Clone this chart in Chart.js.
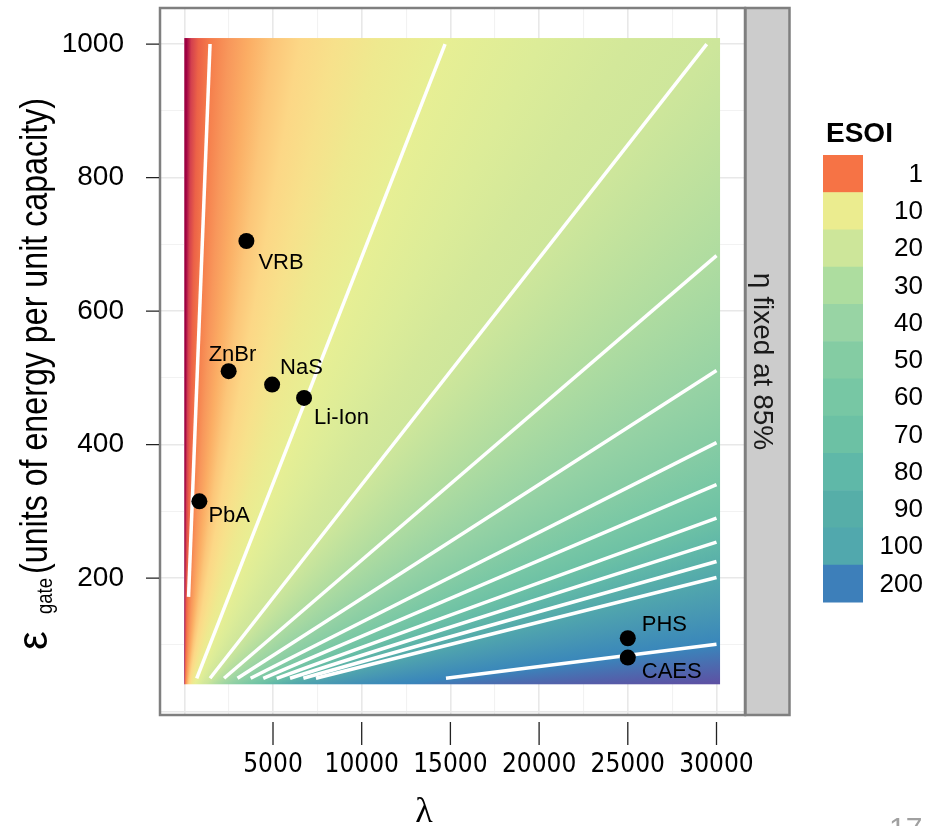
<!DOCTYPE html>
<html>
<head>
<meta charset="utf-8">
<script src="https://cdn.jsdelivr.net/npm/chart.js@4.4.1/dist/chart.umd.min.js"></script>
<style>
  html, body { margin: 0; padding: 0; background: #fff; }
  canvas { display: block; }
</style>
</head>
<body>
<canvas id="esoiChart" width="935" height="826"></canvas>
<script>
// ESOI contour levels, each drawn as a white line between two ends
const contourLevels = [1, 10, 20, 30, 40, 50, 60, 70, 80, 90, 100, 200];
const contourLoLambda = [240, 699, 1450, 2240, 3000, 3740, 4450, 5210, 5960, 6710, 7420, 14750];
const contourLoEps = [172, 50, 50, 50, 50, 50, 50, 50, 50, 50, 50, 50];
const contourHiLambda = [1450, 14700, 29450, 30000, 30000, 30000, 30000, 30000, 30000, 30000, 30000, 30000];
const contourHiEps = [1000, 1000, 1000, 683, 511, 403, 340, 290, 254, 225, 201, 101];

// storage technologies
const techNames = ['VRB', 'ZnBr', 'NaS', 'Li-Ion', 'PbA', 'PHS', 'CAES'];
const techLambda = [3500, 2500, 4950, 6750, 850, 25000, 25000];
const techEps = [705, 510, 490, 470, 315, 110, 81];

// heatmap colour read along the top and the right edge of the raster
const heatLambda = [120, 400, 800, 1450, 2500, 3600, 5000, 6500, 8500, 11000, 14700, 20000, 25000,
                    30000, 30000, 30000, 30000, 30000, 30000, 30000, 30000, 30000, 30000, 30000, 30000];
const heatEps = [1000, 1000, 1000, 1000, 1000, 1000, 1000, 1000, 1000, 1000, 1000, 1000, 1000,
                 1000, 683, 511, 403, 340, 290, 254, 225, 201, 150, 101, 41];
const heatColors = ['#9e0142', '#d3404e', '#ec6247', '#f57c4b', '#f8975b', '#fbad64', '#fcc679',
                    '#fcd786', '#f7e18b', '#eee98f', '#e7ef94', '#dcec98', '#d3e89a',
                    '#cde69b', '#afdca0', '#98d3a4', '#86cca4', '#78c7a5', '#6dc1a5', '#62b9a8',
                    '#59b0a9', '#52a8ac', '#4797b3', '#3986bb', '#5e50a3'];
const heatLambdaRange = [0, 30200];
const heatEpsRange = [41, 1009];

// legend
const legendLabels = ['1', '10', '20', '30', '40', '50', '60', '70', '80', '90', '100', '200'];
const legendColors = ['#f67345', '#ebec8f', '#cde69a', '#addd9f', '#98d4a4', '#84cca3',
                      '#77c7a4', '#6cc1a4', '#5fb8a8', '#56aea8', '#51a8ad', '#3d7fba'];

// axes
const xBreaks = [0, 2500, 5000, 7500, 10000, 12500, 15000, 17500, 20000, 22500, 25000, 27500, 30000];
const xTickLabels = [5000, 10000, 15000, 20000, 25000, 30000];
const yBreaks = [0, 100, 200, 300, 400, 500, 600, 700, 800, 900, 1000];
const yTickLabels = [200, 400, 600, 800, 1000];

const labelOffsets = {
  'VRB': [12, 22], 'ZnBr': [-20, -16], 'NaS': [8, -17], 'Li-Ion': [10, 20],
  'PbA': [9, 15], 'PHS': [14, -13], 'CAES': [14, 14]
};

const SANS = '"Liberation Sans", Arial, Helvetica, sans-serif';
const NARROW = '"Liberation Sans Narrow", "DejaVu Sans Condensed", sans-serif';

// fan of colour from the origin, stops placed at the angle of each sample
const heatmapPlugin = {
  id: 'heatmap',
  beforeDatasetsDraw(chart) {
    const { ctx, scales: { x, y } } = chart;
    const cx = x.getPixelForValue(0);
    const cy = y.getPixelForValue(0);
    const grad = ctx.createConicGradient(-Math.PI / 2, cx, cy);
    const stops = heatLambda.map((l, i) => {
      const a = Math.atan2(y.getPixelForValue(heatEps[i]) - cy, x.getPixelForValue(l) - cx);
      return [(a + Math.PI / 2) / (2 * Math.PI), heatColors[i]];
    }).sort((p, q) => p[0] - q[0]);
    stops.forEach(([o, c]) => grad.addColorStop(Math.min(1, Math.max(0, o)), c));
    const left = x.getPixelForValue(heatLambdaRange[0]);
    const right = x.getPixelForValue(heatLambdaRange[1]);
    const top = y.getPixelForValue(heatEpsRange[1]);
    const bottom = y.getPixelForValue(heatEpsRange[0]);
    ctx.save();
    ctx.fillStyle = grad;
    ctx.fillRect(left, top, right - left, bottom - top);
    ctx.restore();
  }
};

const decorPlugin = {
  id: 'decor',
  afterDraw(chart) {
    const { ctx, chartArea: area, scales: { x, y } } = chart;
    ctx.save();

    // point labels
    const meta = chart.getDatasetMeta(0);
    ctx.fillStyle = '#000';
    ctx.font = '22px ' + SANS;
    ctx.textAlign = 'left';
    ctx.textBaseline = 'middle';
    techNames.forEach((name, i) => {
      const pt = meta.data[i];
      const off = labelOffsets[name];
      ctx.fillText(name, pt.x + off[0], pt.y + off[1]);
    });

    // panel border
    ctx.strokeStyle = '#7f7f7f';
    ctx.lineWidth = 2.5;
    ctx.strokeRect(area.left, area.top, area.right + 1 - area.left, area.bottom - area.top);

    // facet strip
    const sx = area.right + 1.5, sw = 44;
    ctx.fillStyle = '#cccccc';
    ctx.fillRect(sx, area.top, sw, area.bottom - area.top);
    ctx.strokeRect(sx, area.top, sw, area.bottom - area.top);
    ctx.save();
    ctx.translate(sx + 8, (area.top + area.bottom) / 2);
    ctx.rotate(Math.PI / 2);
    ctx.fillStyle = '#1a1a1a';
    ctx.font = '28px ' + SANS;
    ctx.textAlign = 'center';
    ctx.textBaseline = 'alphabetic';
    ctx.fillText('\u03b7 fixed at 85%', 0, 0);
    ctx.restore();

    // tick marks
    ctx.strokeStyle = '#222';
    ctx.lineWidth = 1.3;
    ctx.beginPath();
    yTickLabels.forEach(v => {
      const py = y.getPixelForValue(v);
      ctx.moveTo(area.left - 14, py);
      ctx.lineTo(area.left - 1, py);
    });
    xTickLabels.forEach(v => {
      const px = x.getPixelForValue(v);
      ctx.moveTo(px, area.bottom + 7);
      ctx.lineTo(px, area.bottom + 30);
    });
    ctx.stroke();

    // y title with subscript
    ctx.save();
    ctx.translate(47, 0);
    ctx.rotate(-Math.PI / 2);
    ctx.fillStyle = '#000';
    ctx.textAlign = 'left';
    ctx.textBaseline = 'alphabetic';
    ctx.font = '42px ' + SANS;
    ctx.fillText('\u03b5', -650, 0);
    ctx.font = '22px ' + SANS;
    ctx.fillText('gate', -614, 5, 36);
    ctx.font = '39px ' + SANS;
    ctx.fillText('(units of energy per unit capacity)', -574, 0, 476);
    ctx.restore();

    // x title
    ctx.fillStyle = '#000';
    ctx.font = '36px "Liberation Serif", serif';
    ctx.textAlign = 'center';
    ctx.textBaseline = 'alphabetic';
    ctx.fillText('\u03bb', 424, 822);

    // legend
    ctx.textAlign = 'left';
    ctx.font = 'bold 28px ' + SANS;
    ctx.fillText('ESOI', 826, 142);
    const keyH = 37.25;
    legendColors.forEach((c, i) => {
      ctx.fillStyle = c;
      ctx.fillRect(823, 155 + i * keyH, 40, keyH + 0.5);
    });
    ctx.fillStyle = '#000';
    ctx.font = '26px ' + SANS;
    ctx.textAlign = 'right';
    ctx.textBaseline = 'middle';
    legendLabels.forEach((t, i) => {
      ctx.fillText(t, 923, 155 + (i + 0.5) * keyH + 1);
    });

    // page number at the cut-off bottom edge
    ctx.fillStyle = '#a0a0a0';
    ctx.font = '30px ' + SANS;
    ctx.textAlign = 'left';
    ctx.textBaseline = 'alphabetic';
    ctx.fillText('17', 889, 838);

    ctx.restore();
  }
};

function initializeChart() {
  const ctx = document.getElementById('esoiChart').getContext('2d');

  const contourDatasets = contourLevels.map((lvl, i) => ({
    label: 'ESOI ' + lvl,
    data: [
      { x: contourLoLambda[i], y: contourLoEps[i] },
      { x: contourHiLambda[i], y: contourHiEps[i] }
    ],
    showLine: true,
    borderColor: '#ffffff',
    borderWidth: 3.5,
    pointRadius: 0,
    pointHoverRadius: 0,
    tension: 0,
    fill: false
  }));

  const techDataset = {
    label: 'Technologies',
    data: techNames.map((n, i) => ({ x: techLambda[i], y: techEps[i] })),
    showLine: false,
    pointRadius: 8,
    pointHoverRadius: 8,
    backgroundColor: '#000000',
    borderWidth: 0
  };

  new Chart(ctx, {
    type: 'scatter',
    data: { datasets: [techDataset, ...contourDatasets] },
    options: {
      responsive: false,
      animation: false,
      devicePixelRatio: 1,
      events: [],
      layout: { padding: { top: 7, right: 191, left: 0, bottom: 0 } },
      plugins: { legend: { display: false }, tooltip: { enabled: false } },
      scales: {
        x: {
          type: 'linear',
          min: -1370,
          max: 31550,
          afterBuildTicks: s => { s.ticks = xBreaks.map(v => ({ value: v })); },
          afterFit: s => { s.height = 111; s.paddingLeft = 0; s.paddingRight = 0; },
          border: { display: false },
          grid: {
            drawTicks: false,
            color: c => (c.tick && c.tick.value % 5000 === 0) ? '#e8e8e8' : '#f2f2f2',
            lineWidth: c => (c.tick && c.tick.value % 5000 === 0) ? 1.6 : 1.1
          },
          ticks: {
            autoSkip: false,
            maxRotation: 0,
            minRotation: 0,
            padding: 35,
            color: '#000',
            font: { family: NARROW, size: 26 },
            callback: v => xTickLabels.includes(v) ? String(v) : ''
          }
        },
        y: {
          type: 'linear',
          min: -5,
          max: 1054,
          afterBuildTicks: s => { s.ticks = yBreaks.map(v => ({ value: v })); },
          afterFit: s => { s.width = 160; s.paddingTop = 0; s.paddingBottom = 0; },
          border: { display: false },
          grid: {
            drawTicks: false,
            color: c => (c.tick && c.tick.value % 200 === 0) ? '#e8e8e8' : '#f2f2f2',
            lineWidth: c => (c.tick && c.tick.value % 200 === 0) ? 1.6 : 1.1
          },
          ticks: {
            autoSkip: false,
            padding: 36,
            color: '#000',
            font: { family: SANS, size: 28 },
            callback: v => yTickLabels.includes(v) ? String(v) : ''
          }
        }
      }
    },
    plugins: [heatmapPlugin, decorPlugin]
  });
}

document.addEventListener('DOMContentLoaded', initializeChart);
</script>
</body>
</html>
